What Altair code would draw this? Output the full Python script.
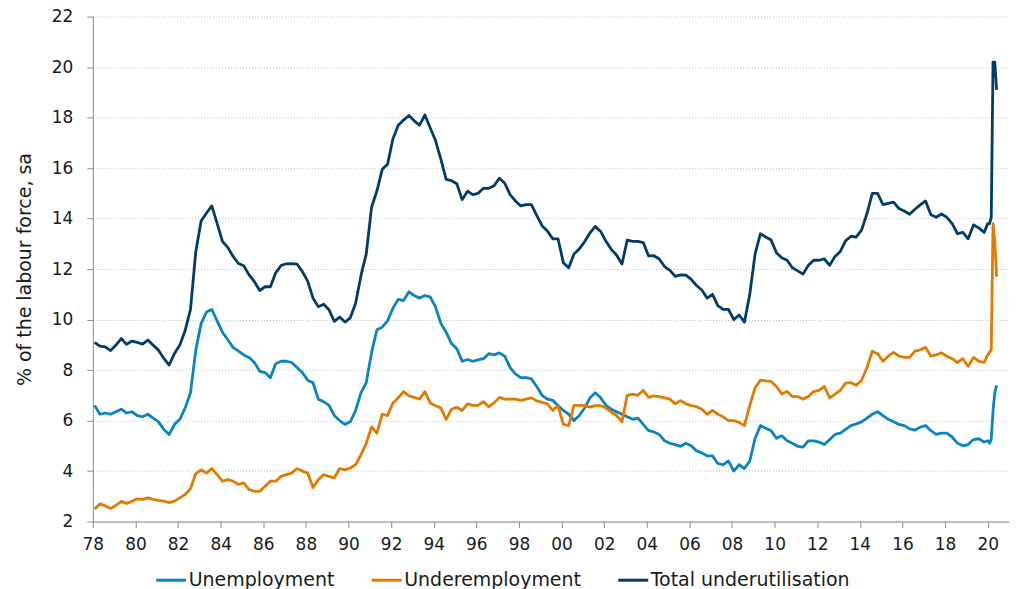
import altair as alt
import pandas as pd

# Quarterly readings (Feb, May, Aug, Nov) 1978-2019, then monthly Jan-Jun 2020
years = list(range(1978, 2020))
quarter_months = [2, 5, 8, 11]
months_2020 = [1, 2, 3, 4, 5, 6]

unemployment = [
    6.6, 6.25, 6.3, 6.25,    # 1978
    6.35, 6.45, 6.3, 6.35,   # 1979
    6.2, 6.15, 6.25, 6.1,    # 1980
    5.95, 5.65, 5.45, 5.85,  # 1981
    6.05, 6.5, 7.1, 8.8,     # 1982
    9.85, 10.3, 10.4, 9.95,  # 1983
    9.5, 9.2, 8.9, 8.75,     # 1984
    8.6, 8.5, 8.3, 7.95,     # 1985
    7.9, 7.7, 8.25, 8.35,    # 1986
    8.35, 8.3, 8.1, 7.9,     # 1987
    7.6, 7.5, 6.85, 6.75,    # 1988
    6.6, 6.2, 6.0, 5.85,     # 1989
    5.95, 6.4, 7.1, 7.5,     # 1990
    8.7, 9.6, 9.7, 9.95,     # 1991
    10.45, 10.8, 10.75, 11.1,  # 1992
    10.95, 10.85, 10.95, 10.9,  # 1993
    10.5, 9.85, 9.5, 9.05,   # 1994
    8.85, 8.35, 8.42, 8.35,  # 1995
    8.4, 8.45, 8.65, 8.6,    # 1996
    8.68, 8.55, 8.1, 7.85,   # 1997
    7.7, 7.7, 7.65, 7.35,    # 1998
    7.0, 6.85, 6.8, 6.6,     # 1999
    6.4, 6.25, 6.0, 6.2,     # 2000
    6.5, 6.9, 7.1, 6.9,      # 2001
    6.6, 6.45, 6.35, 6.25,   # 2002
    6.15, 6.05, 6.1, 5.85,   # 2003
    5.6, 5.55, 5.45, 5.2,    # 2004
    5.1, 5.05, 4.98, 5.1,    # 2005
    5.0, 4.8, 4.72, 4.6,     # 2006
    4.6, 4.3, 4.25, 4.4,     # 2007
    4.0, 4.25, 4.1, 4.4,     # 2008
    5.3, 5.8, 5.7, 5.6,      # 2009
    5.3, 5.4, 5.2, 5.1,      # 2010
    4.98, 4.95, 5.2, 5.2,    # 2011
    5.15, 5.05, 5.25, 5.45,  # 2012
    5.5, 5.65, 5.8, 5.87,    # 2013
    5.95, 6.1, 6.25, 6.35,   # 2014
    6.2, 6.05, 5.95, 5.85,   # 2015
    5.8, 5.67, 5.62, 5.74,   # 2016
    5.8, 5.6, 5.45, 5.5,     # 2017
    5.5, 5.35, 5.1, 5.0,     # 2018
    5.05, 5.25, 5.28, 5.15,  # 2019
]
unemployment_2020 = [5.2, 5.1, 5.25, 6.4, 7.1, 7.4]

underemployment = [
    2.5, 2.7, 2.62, 2.52,    # 1978
    2.64, 2.8, 2.72, 2.8,    # 1979
    2.9, 2.88, 2.94, 2.88,   # 1980
    2.84, 2.81, 2.75, 2.81,  # 1981
    2.94, 3.07, 3.3, 3.9,    # 1982
    4.05, 3.92, 4.1, 3.86,   # 1983
    3.6, 3.66, 3.6, 3.47,    # 1984
    3.53, 3.27, 3.2, 3.2,    # 1985
    3.4, 3.6, 3.6, 3.79,     # 1986
    3.86, 3.92, 4.1, 4.0,    # 1987
    3.92, 3.35, 3.66, 3.86,  # 1988
    3.79, 3.73, 4.1, 4.05,   # 1989
    4.12, 4.25, 4.64, 5.1,   # 1990
    5.75, 5.5, 6.25, 6.2,    # 1991
    6.7, 6.9, 7.15, 6.98,    # 1992
    6.92, 6.85, 7.15, 6.7,   # 1993
    6.59, 6.5, 6.05, 6.45,   # 1994
    6.53, 6.4, 6.66, 6.6,    # 1995
    6.6, 6.75, 6.55, 6.7,    # 1996
    6.92, 6.85, 6.85, 6.85,  # 1997
    6.8, 6.85, 6.9, 6.78,    # 1998
    6.72, 6.66, 6.4, 6.6,    # 1999
    5.85, 5.8, 6.6, 6.6,     # 2000
    6.59, 6.53, 6.59, 6.59,  # 2001
    6.5, 6.33, 6.2, 5.95,    # 2002
    7.0, 7.05, 7.0, 7.2,     # 2003
    6.92, 6.98, 6.95, 6.9,   # 2004
    6.85, 6.66, 6.79, 6.66,  # 2005
    6.59, 6.55, 6.45, 6.25,  # 2006
    6.4, 6.25, 6.15, 6.0,    # 2007
    6.0, 5.93, 5.8, 6.6,     # 2008
    7.3, 7.6, 7.57, 7.55,    # 2009
    7.35, 7.05, 7.15, 6.95,  # 2010
    6.95, 6.85, 6.95, 7.15,  # 2011
    7.2, 7.35, 6.9, 7.05,    # 2012
    7.2, 7.48, 7.5, 7.4,     # 2013
    7.6, 8.1, 8.75, 8.65,    # 2014
    8.35, 8.55, 8.7, 8.55,   # 2015
    8.5, 8.5, 8.75, 8.8,     # 2016
    8.9, 8.55, 8.6, 8.68,    # 2017
    8.55, 8.45, 8.3, 8.45,   # 2018
    8.15, 8.5, 8.35, 8.3,    # 2019
]
underemployment_2020 = [8.6, 8.7, 8.8, 13.8, 13.1, 11.7]

series_names = ["Unemployment", "Underemployment", "Total underutilisation"]
series_colors = ["#0a84c1", "#e07b00", "#003d66"]
x_ticks = list(range(1978, 2021, 2))
y_ticks = list(range(2, 23, 2))

# time axis (decimal years)
t = [y + (m - 1) / 12 for y in years for m in quarter_months] + [2020 + (m - 1) / 12 for m in months_2020]
u = unemployment + unemployment_2020
ue = underemployment + underemployment_2020
# total underutilisation = unemployment + underemployment (definition)
tot = [round(a + b, 2) for a, b in zip(u, ue)]

frames = []
for name, vals in zip(series_names, [u, ue, tot]):
    frames.append(pd.DataFrame({"t": t, "value": vals, "series": name}))
df = pd.concat(frames, ignore_index=True)

FONT = "DejaVu Sans"
TXT = "#1a1a1a"

chart = (
    alt.Chart(df)
    .mark_line(strokeWidth=2.8, strokeJoin="round")
    .encode(
        x=alt.X(
            "t:Q",
            scale=alt.Scale(domain=[1978, 2021], nice=False, zero=False),
            axis=alt.Axis(
                values=x_ticks,
                labelExpr="(datum.value % 100) < 10 ? '0' + (datum.value % 100) : '' + (datum.value % 100)",
                title=None,
                grid=False,
                tickSize=6,
                labelPadding=9,
                labelFontSize=17,
                labelFlush=False,
            ),
        ),
        y=alt.Y(
            "value:Q",
            scale=alt.Scale(domain=[2, 22], nice=False, zero=False),
            axis=alt.Axis(
                values=y_ticks,
                title="% of the labour force, sa",
                titleFontSize=19,
                titleFontWeight="normal",
                titlePadding=17,
                grid=True,
                gridDash=[1, 2],
                gridColor="#aebfcd",
                tickSize=6,
                labelPadding=14,
                labelFontSize=17,
            ),
        ),
        color=alt.Color(
            "series:N",
            scale=alt.Scale(domain=series_names, range=series_colors),
            legend=alt.Legend(
                title=None,
                orient="none",
                legendX=62,
                legendY=548,
                direction="horizontal",
                symbolType="stroke",
                symbolSize=900,
                symbolStrokeWidth=3,
                labelFontSize=19,
                labelLimit=400,
                labelOffset=1,
                columnPadding=30,
                padding=0,
            ),
        ),
        detail="series:N",
    )
    .properties(
        width=918,
        height=506,
        autosize=alt.AutoSizeParams(type="none"),
        padding={"left": 85, "top": 8, "right": 5, "bottom": 85},
    )
    .configure(font=FONT)
    .configure_view(stroke=None)
    .configure_axis(
        domainColor="#8c8c8c",
        tickColor="#8c8c8c",
        labelColor=TXT,
        titleColor=TXT,
        labelFont=FONT,
        titleFont=FONT,
    )
    .configure_legend(labelColor=TXT, labelFont=FONT)
)

chart.save("out.html", embed_options={"renderer": "svg", "actions": False})
